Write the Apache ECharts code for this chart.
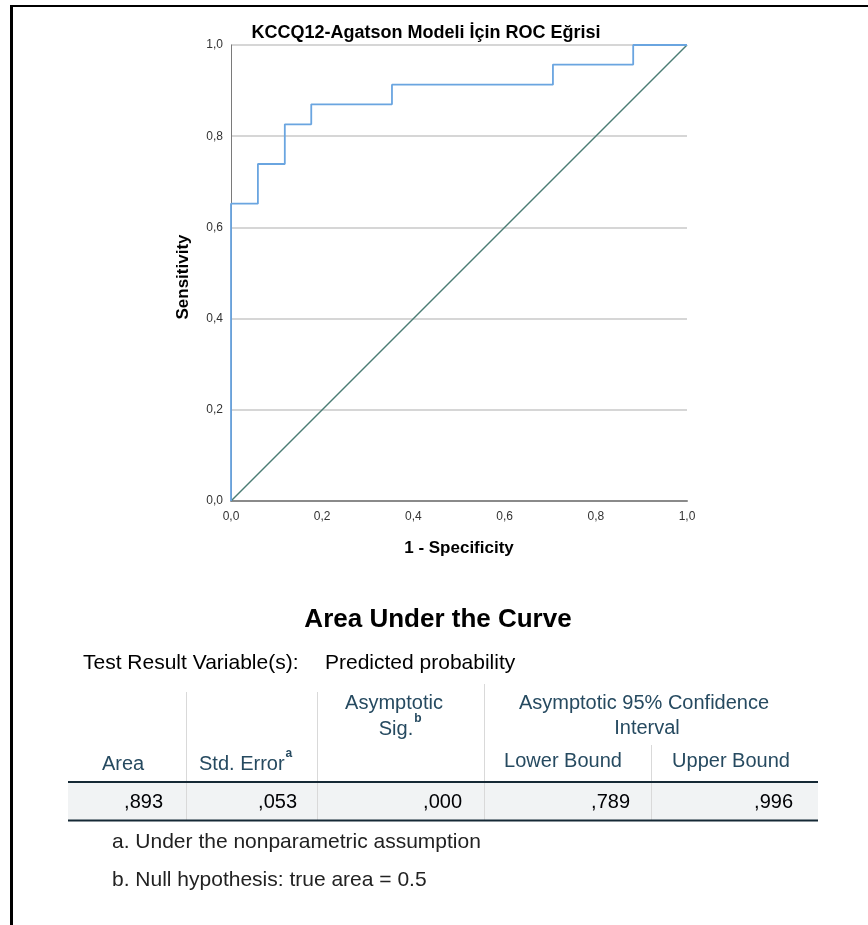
<!DOCTYPE html>
<html>
<head>
<meta charset="utf-8">
<title>ROC</title>
<script src="https://cdn.jsdelivr.net/npm/echarts@6/dist/echarts.min.js"></script>
<style>
  html, body { margin: 0; padding: 0; background: #ffffff; }
  #chart { width: 868px; height: 925px; }
</style>
</head>
<body>
<div id="chart"></div>
<script>
// ROC curve points (1 - specificity, sensitivity)
const rocFpr = [0, 0, 0.059, 0.059, 0.118, 0.118, 0.176, 0.176, 0.353, 0.353, 0.706, 0.706, 0.882, 0.882, 1.0];
const rocTpr = [0, 0.652, 0.652, 0.739, 0.739, 0.826, 0.826, 0.870, 0.870, 0.913, 0.913, 0.957, 0.957, 1.0, 1.0];
// chance reference line
const refX = [0, 1];
const refY = [0, 1];
// axis tick labels
const tickValues = [0, 0.2, 0.4, 0.6, 0.8, 1.0];
const tickLabels = ['0,0', '0,2', '0,4', '0,6', '0,8', '1,0'];

// AUC table
const aucRowValues = [',893', ',053', ',000', ',789', ',996'];
const footnotes = ['a. Under the nonparametric assumption', 'b. Null hypothesis: true area = 0.5'];

const FONT = '"Liberation Sans", Arial, Helvetica, sans-serif';
const HEAD = '#264a60';
const chart = echarts.init(document.getElementById('chart'), null, { renderer: 'canvas' });

const labelFor = v => {
  const i = tickValues.findIndex(t => Math.abs(t - v) < 1e-9);
  return i >= 0 ? tickLabels[i] : '';
};

const measure = (() => {
  const c = document.createElement('canvas').getContext('2d');
  return (text, font) => { c.font = font; return c.measureText(text).width; };
})();

function txt(text, x, y, opts) {
  opts = opts || {};
  const size = opts.size || 20;
  const weight = opts.weight || 'normal';
  return {
    type: 'text', silent: true, z: 10,
    x: x, y: y, rotation: opts.rotation || 0,
    style: {
      text: text, x: 0, y: 0,
      fontSize: size, fontWeight: weight, fontFamily: FONT,
      fill: opts.color || '#000',
      align: opts.align || 'left', verticalAlign: 'middle',
      textAlign: opts.align || 'left', textVerticalAlign: 'middle'
    }
  };
}
function line(x1, y1, x2, y2, color, width) {
  return {
    type: 'line', silent: true, z: 5,
    shape: { x1: x1, y1: y1, x2: x2, y2: y2 },
    style: { stroke: color, lineWidth: width }
  };
}
// header text followed by a small raised footnote letter
function withSup(main, sup, x, y, size, align) {
  const w = measure(main, size + 'px ' + FONT);
  const left = align === 'center' ? x - w / 2 : x;
  return [
    txt(main, left, y, { size: size, color: HEAD }),
    txt(sup, left + w + 1, y - 10, { size: 12, weight: 'bold', color: HEAD })
  ];
}

const graphics = [];
// frame
graphics.push(line(10, 6, 868, 6, '#000', 2));
graphics.push(line(11.5, 5, 11.5, 925, '#000', 3));

// chart title and axis names
graphics.push(txt('KCCQ12-Agatson Modeli İçin ROC Eğrisi', 426, 33, { size: 18, weight: 'bold', align: 'center' }));
graphics.push(txt('1 - Specificity', 459, 548, { size: 17, weight: 'bold', align: 'center' }));
graphics.push(txt('Sensitivity', 183, 277, { size: 17, weight: 'bold', align: 'center', rotation: Math.PI / 2 }));

// table title
graphics.push(txt('Area Under the Curve', 438, 620, { size: 26, weight: 'bold', align: 'center' }));
graphics.push(txt('Test Result Variable(s):', 83, 663, { size: 21 }));
graphics.push(txt('Predicted probability', 325, 663, { size: 21 }));

// table structure
graphics.push({ type: 'rect', silent: true, z: 1, shape: { x: 68, y: 782, width: 750, height: 38 }, style: { fill: '#f1f3f4' } });
[186, 317].forEach(x => graphics.push(line(x + 0.5, 692, x + 0.5, 820, '#d9d9d9', 1)));
graphics.push(line(484.5, 684, 484.5, 820, '#d9d9d9', 1));
graphics.push(line(651.5, 745, 651.5, 820, '#d9d9d9', 1));
graphics.push(line(68, 782, 818, 782, '#152935', 2));
graphics.push(line(68, 820.5, 818, 820.5, '#152935', 2));

// header texts
graphics.push(txt('Area', 123, 764, { size: 20, color: HEAD, align: 'center' }));
withSup('Std. Error', 'a', 199, 764, 20, 'left').forEach(g => graphics.push(g));
graphics.push(txt('Asymptotic', 394, 703, { size: 20, color: HEAD, align: 'center' }));
withSup('Sig.', 'b', 396, 729, 20, 'center').forEach(g => graphics.push(g));
graphics.push(txt('Asymptotic 95% Confidence', 644, 703, { size: 20, color: HEAD, align: 'center' }));
graphics.push(txt('Interval', 647, 728, { size: 20, color: HEAD, align: 'center' }));
graphics.push(txt('Lower Bound', 563, 761, { size: 20, color: HEAD, align: 'center' }));
graphics.push(txt('Upper Bound', 731, 761, { size: 20, color: HEAD, align: 'center' }));

// data row (right aligned)
const valueRight = [163, 297, 462, 630, 793];
aucRowValues.forEach((v, i) => graphics.push(txt(v, valueRight[i], 802, { size: 20, color: '#010205', align: 'right' })));

// footnotes
graphics.push(txt(footnotes[0], 112, 842, { size: 21, color: '#222' }));
graphics.push(txt(footnotes[1], 112, 880, { size: 21, color: '#222' }));

const option = {
  backgroundColor: '#ffffff',
  animation: false,
  grid: { left: 231, top: 45, width: 456, height: 456, containLabel: false },
  xAxis: {
    type: 'value', min: 0, max: 1, interval: 0.2,
    axisLine: { show: true, onZero: false, lineStyle: { color: '#8a8a8a', width: 2 } },
    axisTick: { show: false },
    splitLine: { show: false },
    axisLabel: { formatter: labelFor, color: '#333', fontSize: 12, fontFamily: FONT, margin: 10 }
  },
  yAxis: {
    type: 'value', min: 0, max: 1, interval: 0.2,
    axisLine: { show: true, onZero: false, lineStyle: { color: '#7a7a7a', width: 1 } },
    axisTick: { show: false },
    splitLine: { show: true, lineStyle: { color: '#c9c9c9', width: 1.5 } },
    axisLabel: { formatter: labelFor, color: '#333', fontSize: 12, fontFamily: FONT, margin: 8 }
  },
  series: [
    {
      name: 'Reference', type: 'line', symbol: 'none', silent: true, z: 2,
      data: refX.map((x, i) => [x, refY[i]]),
      lineStyle: { color: '#4b7d74', width: 1.5 }
    },
    {
      name: 'ROC', type: 'line', symbol: 'none', silent: true, z: 3,
      data: rocFpr.map((x, i) => [x, rocTpr[i]]),
      lineStyle: { color: '#6aa5e0', width: 1.8 }
    }
  ],
  graphic: graphics
};
chart.setOption(option);
</script>
</body>
</html>
